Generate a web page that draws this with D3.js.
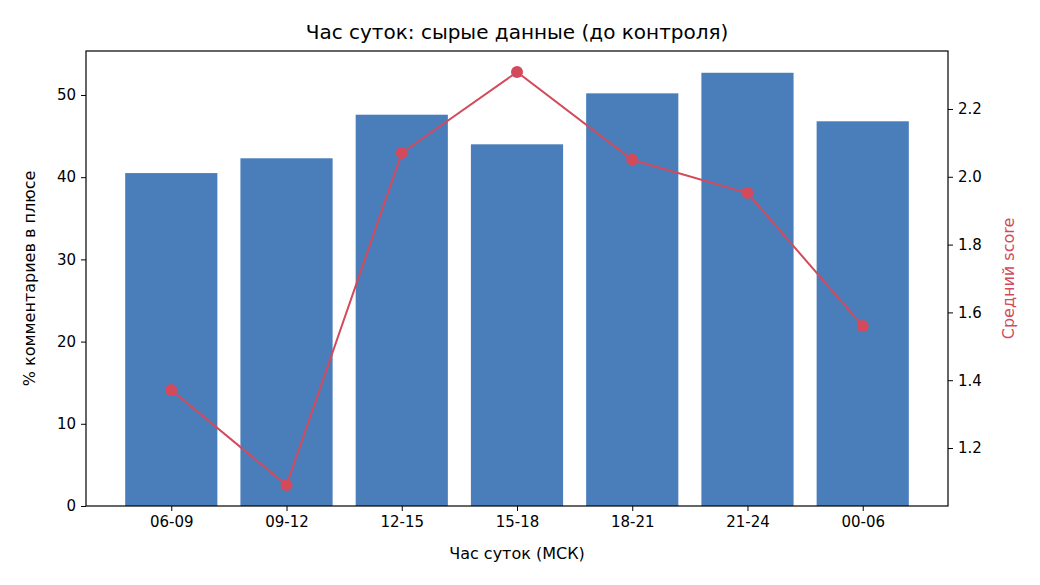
<!DOCTYPE html>
<html><head><meta charset="utf-8">
<script src="https://cdn.jsdelivr.net/npm/d3@7"></script>
<style>body{margin:0;background:#fff}svg{font-family:"DejaVu Sans",sans-serif}</style>
</head><body><svg id="c" width="1040" height="585"></svg>
<script>
const categories=["06-09","09-12","12-15","15-18","18-21","21-24","00-06"];
const pctPositive=[40.5,42.3,47.6,44.0,50.2,52.7,46.8];
const meanScore=[1.371,1.091,2.070,2.309,2.050,1.952,1.560];
const leftTicks=[0,10,20,30,40,50];
const rightTicks=[1.2,1.4,1.6,1.8,2.0,2.2];

const svg=d3.select("#c");
const L=86,R=948,T=51,B=506;
const x=d3.scaleLinear().domain([-0.74,6.74]).range([L,R]);
const y=d3.scaleLinear().domain([0,55.35]).range([B,T]);
const y2=d3.scaleLinear().domain([1.029,2.371]).range([B,T]);
const bw=0.8*(x(1)-x(0));
const barColor="#4a7eba", lineColor="#d24a5b";

svg.selectAll("rect.bar").data(categories).join("rect")
 .attr("x",(d,i)=>x(i)-bw/2).attr("width",bw)
 .attr("y",(d,i)=>y(pctPositive[i])).attr("height",(d,i)=>B-y(pctPositive[i]))
 .attr("fill",barColor);

const line=d3.line().x((d,i)=>x(i)).y(d=>y2(d));
svg.append("path").attr("d",line(meanScore)).attr("fill","none").attr("stroke",lineColor).attr("stroke-width",2);
svg.selectAll("circle").data(meanScore).join("circle")
 .attr("cx",(d,i)=>x(i)).attr("cy",d=>y2(d)).attr("r",6).attr("fill",lineColor);

const fs="15px";
const ax=svg.append("g").attr("transform",`translate(0,${B})`)
 .call(d3.axisBottom(x).tickValues(d3.range(categories.length)).tickFormat(i=>categories[i]).tickSizeOuter(0).tickSize(5).tickPadding(5));
const ay=svg.append("g").attr("transform",`translate(${L},0)`)
 .call(d3.axisLeft(y).tickValues(leftTicks).tickSizeOuter(0).tickSize(5).tickPadding(5));
const ay2=svg.append("g").attr("transform",`translate(${R},0)`)
 .call(d3.axisRight(y2).tickValues(rightTicks).tickFormat(d3.format(".1f")).tickSizeOuter(0).tickSize(5).tickPadding(5));
[ax,ay,ay2].forEach(g=>{g.selectAll("text").attr("font-size",fs).attr("fill","#000").attr("font-family","DejaVu Sans");g.select(".domain").remove();g.selectAll("line").attr("stroke","#000")});

svg.append("rect").attr("x",L).attr("y",T).attr("width",R-L).attr("height",B-T).attr("fill","none").attr("stroke","#000").attr("stroke-width",1.2);

svg.append("text").attr("x",(L+R)/2).attr("y",39).attr("text-anchor","middle").attr("font-size","20px").text("Час суток: сырые данные (до контроля)");
svg.append("text").attr("x",(L+R)/2).attr("y",559).attr("text-anchor","middle").attr("font-size","16px").text("Час суток (МСК)");
svg.append("text").attr("transform",`translate(35,${(T+B)/2}) rotate(-90)`).attr("text-anchor","middle").attr("font-size","16px").text("% комментариев в плюсе");
svg.append("text").attr("transform",`translate(1014,${(T+B)/2}) rotate(-90)`).attr("text-anchor","middle").attr("font-size","16px").attr("fill",lineColor).text("Средний score");
</script></body></html>
